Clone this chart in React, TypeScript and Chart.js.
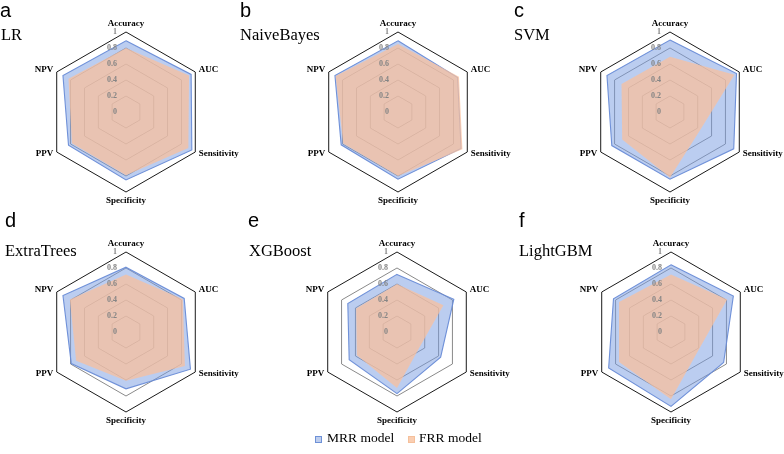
import React, { useEffect, useRef } from 'react';
import { Chart, registerables } from 'chart.js';

Chart.register(...registerables);

// ---- data ----
const axisLabels = ['Accuracy', 'AUC', 'Sensitivity', 'Specificity', 'PPV', 'NPV'];
const tickValues = [0, 0.2, 0.4, 0.6, 0.8, 1];
const tickLabels = ['0', '0.2', '0.4', '0.6', '0.8', '1'];
const seriesNames = ['MRR model', 'FRR model'];
const panelLetters = ['a', 'b', 'c', 'd', 'e', 'f'];
const modelNames = ['LR', 'NaiveBayes', 'SVM', 'ExtraTrees', 'XGBoost', 'LightGBM'];

const lrMRR = [0.89, 0.94, 0.95, 0.85, 0.83, 0.91];
const lrFRR = [0.8, 0.91, 0.9, 0.79, 0.78, 0.83];
const nbMRR = [0.89, 0.86, 0.91, 0.84, 0.82, 0.91];
const nbFRR = [0.85, 0.88, 0.93, 0.8, 0.79, 0.9];
const svmMRR = [0.9, 0.96, 0.92, 0.84, 0.84, 0.91];
const svmFRR = [0.69, 0.93, 0.44, 0.82, 0.69, 0.7];
const etMRR = [0.81, 0.84, 0.93, 0.71, 0.79, 0.91];
const etFRR = [0.72, 0.82, 0.85, 0.61, 0.72, 0.81];
const xgbMRR = [0.72, 0.82, 0.63, 0.77, 0.69, 0.71];
const xgbFRR = [0.6, 0.67, 0.34, 0.7, 0.58, 0.59];
const lgbMRR = [0.84, 0.9, 0.76, 0.93, 0.9, 0.83];
const lgbFRR = [0.72, 0.81, 0.41, 0.84, 0.75, 0.75];

const mrrSeries = [lrMRR, nbMRR, svmMRR, etMRR, xgbMRR, lgbMRR];
const frrSeries = [lrFRR, nbFRR, svmFRR, etFRR, xgbFRR, lgbFRR];

// ---- styles ----
const MRR_FILL = 'rgba(120,155,225,0.5)';
const MRR_LINE = 'rgba(105,140,215,0.95)';
const FRR_FILL = 'rgba(252,193,155,0.72)';
const SERIF = '"Liberation Serif", "Times New Roman", serif';
const SANS = '"Liberation Sans", Arial, sans-serif';

const CW = 250;
const CH = 202;
const CX = 125;
const CY = 100;

const centers = [
  [126, 112],
  [398, 112],
  [670, 112],
  [126, 332],
  [397, 332],
  [671, 332],
];
const letterPos = [
  [0, 0],
  [240, 0],
  [514, 0],
  [5, 210],
  [248, 210],
  [519, 210],
];
const namePos = [
  [1, 27],
  [240, 27],
  [514, 27],
  [5, 243],
  [249, 243],
  [519, 243],
];

function RadarPanel({ mrr, frr, left, top }: { mrr: number[]; frr: number[]; left: number; top: number }) {
  const ref = useRef<HTMLCanvasElement>(null);
  useEffect(() => {
    if (!ref.current) return;
    const chart = new Chart(ref.current, {
      type: 'radar',
      data: {
        labels: axisLabels,
        datasets: [
          {
            label: seriesNames[0],
            data: mrr,
            backgroundColor: MRR_FILL,
            borderColor: MRR_LINE,
            borderWidth: 1.1,
            fill: true,
            order: 1,
            pointRadius: 0,
            pointHoverRadius: 0,
          },
          {
            label: seriesNames[1],
            data: frr,
            backgroundColor: FRR_FILL,
            borderColor: 'rgba(0,0,0,0)',
            borderWidth: 0,
            fill: true,
            order: 0,
            pointRadius: 0,
            pointHoverRadius: 0,
          },
        ],
      },
      options: {
        animation: false,
        responsive: false,
        maintainAspectRatio: false,
        layout: { padding: { top: 12, bottom: 12, left: 0, right: 0 } },
        plugins: { legend: { display: false }, tooltip: { enabled: false } },
        elements: { line: { tension: 0 } },
        scales: {
          r: {
            min: -0.0001,
            max: 1,
            afterBuildTicks: (axis: any) => {
              axis.ticks = tickValues.map((v) => ({ value: v }));
            },
            angleLines: { display: false },
            grid: {
              z: -1,
              color: (c: any) => (c.index === tickValues.length - 1 ? '#1a1a1a' : '#8a8a8a'),
              lineWidth: (c: any) => (c.index === 0 ? 0 : 1),
            },
            ticks: {
              display: true,
              z: 1,
              showLabelBackdrop: false,
              backdropPadding: 0,
              color: '#858585',
              font: { family: SERIF, size: 8, weight: 'bold' },
              callback: (_v: any, i: number) =>
                tickLabels[i] + ' '.repeat(tickLabels[i].length === 1 ? 11 : 14),
            },
            pointLabels: {
              display: true,
              color: '#000000',
              font: { family: SERIF, size: 9, weight: 'bold', lineHeight: 0 },
              padding: (c: any) => (c.index === 0 ? 4 : c.index === 3 ? 5 : 0),
            },
          },
        },
      } as any,
    });
    return () => chart.destroy();
  }, []);
  return (
    <canvas
      ref={ref}
      width={CW}
      height={CH}
      style={{ position: 'absolute', left, top, width: CW, height: CH }}
    />
  );
}

export default function App() {
  return (
    <div
      style={{
        position: 'absolute',
        left: 0,
        top: 0,
        width: 784,
        height: 454,
        overflow: 'hidden',
        background: '#ffffff',
      }}
    >
      {centers.map((c, i) => (
        <RadarPanel key={i} mrr={mrrSeries[i]} frr={frrSeries[i]} left={c[0] - CX} top={c[1] - CY} />
      ))}
      {panelLetters.map((t, i) => (
        <div
          key={'l' + i}
          style={{
            position: 'absolute',
            left: letterPos[i][0],
            top: letterPos[i][1],
            fontFamily: SANS,
            fontSize: 20,
            lineHeight: '20px',
            color: '#000',
            whiteSpace: 'nowrap',
          }}
        >
          {t}
        </div>
      ))}
      {modelNames.map((t, i) => (
        <div
          key={'n' + i}
          style={{
            position: 'absolute',
            left: namePos[i][0],
            top: namePos[i][1],
            fontFamily: SERIF,
            fontSize: 16.5,
            lineHeight: '16.5px',
            color: '#000',
            whiteSpace: 'nowrap',
          }}
        >
          {t}
        </div>
      ))}
      {/* legend */}
      <div
        style={{
          position: 'absolute',
          left: 315,
          top: 436,
          width: 5,
          height: 5,
          background: 'rgb(190,206,238)',
          border: '1px solid rgb(110,145,215)',
        }}
      />
      <div
        style={{
          position: 'absolute',
          left: 327,
          top: 431,
          fontFamily: SERIF,
          fontSize: 13.5,
          lineHeight: '13.5px',
          whiteSpace: 'nowrap',
          color: '#000',
        }}
      >
        {seriesNames[0]}
      </div>
      <div
        style={{
          position: 'absolute',
          left: 408,
          top: 436,
          width: 5,
          height: 5,
          background: 'rgb(250,206,178)',
          border: '1px solid rgb(245,192,155)',
        }}
      />
      <div
        style={{
          position: 'absolute',
          left: 419,
          top: 431,
          fontFamily: SERIF,
          fontSize: 13.5,
          lineHeight: '13.5px',
          whiteSpace: 'nowrap',
          color: '#000',
        }}
      >
        {seriesNames[1]}
      </div>
    </div>
  );
}
